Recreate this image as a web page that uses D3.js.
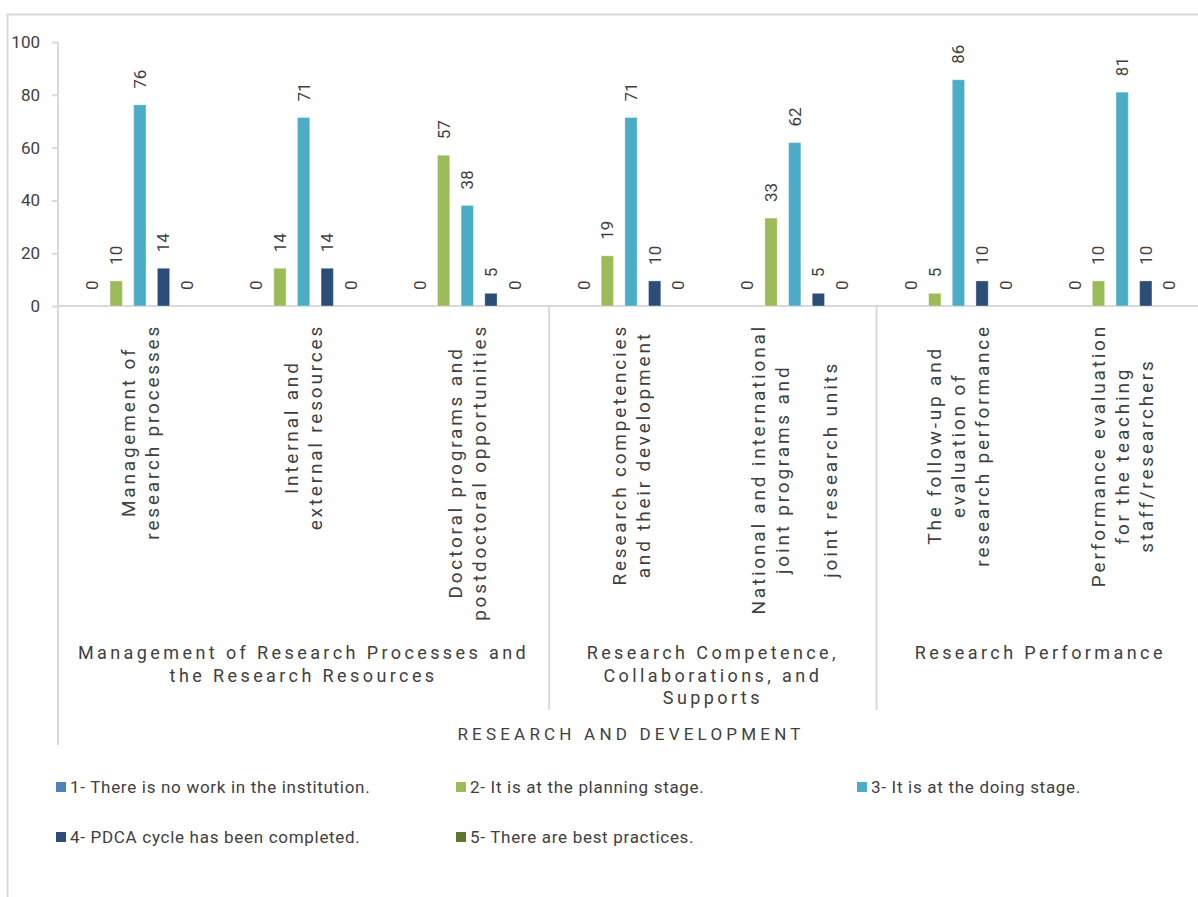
<!DOCTYPE html>
<html><head><meta charset="utf-8">
<script src="https://cdn.jsdelivr.net/npm/d3@7/dist/d3.min.js"></script>
<style>
html,body{margin:0;padding:0;background:#fff;}
svg{display:block;font-family:Roboto, "Noto Sans", sans-serif;}
</style></head>
<body>
<svg id="chart" width="1198" height="897"></svg>
<script>
// ---- data ----
const categories = [
  ["Management of", "research processes"],
  ["Internal and", "external resources"],
  ["Doctoral programs and", "postdoctoral opportunities"],
  ["Research competencies", "and their development"],
  ["National and international", "joint programs and", "", "joint research units"],
  ["The follow-up and", "evaluation of", "research performance"],
  ["Performance evaluation", "for the teaching", "staff/researchers"]
];
const groupLabels = [
  ["Management of Research Processes and", "the Research Resources"],
  ["Research Competence,", "Collaborations, and", "Supports"],
  ["Research Performance"]
];
const groupSizes = [3, 2, 2];
const axisTitle = "RESEARCH AND DEVELOPMENT";
const seriesNames = [
  "1- There is no work in the institution.",
  "2- It is at the planning stage.",
  "3- It is at the doing stage.",
  "4- PDCA cycle has been completed.",
  "5- There are best practices."
];
const s1 = [0, 0, 0, 0, 0, 0, 0];
const s2 = [9.5, 14.3, 57.1, 19.0, 33.3, 4.8, 9.5];
const s3 = [76.2, 71.4, 38.1, 71.4, 61.9, 85.7, 81.0];
const s4 = [14.3, 14.3, 4.8, 9.5, 4.8, 9.5, 9.5];
const s5 = [0, 0, 0, 0, 0, 0, 0];
const seriesValues = [s1, s2, s3, s4, s5];
const seriesColors = ["#4F81BD", "#9BBB59", "#4BACC6", "#2C4D75", "#5F7530"];
const yTicks = [0, 20, 40, 60, 80, 100];

(function () {
// ---- layout ----
const svg = d3.select("#chart");
const pLeft = 58, pRight = 1204, pTop = 42, base = 306;
const axisCol = "#d9d9d9", textCol = "#404040";

// outer frame
svg.append("rect").attr("x", 7.5).attr("y", 14.5).attr("width", 1220).attr("height", 900)
  .attr("fill", "none").attr("stroke", axisCol).attr("stroke-width", 2);

const x0 = d3.scaleBand().domain(d3.range(categories.length)).range([pLeft, pRight]).paddingInner(0).paddingOuter(0);
const x1 = d3.scaleBand().domain(d3.range(seriesNames.length)).range([0, x0.bandwidth()])
  .paddingInner(0.48).paddingOuter(1.2);
const y = d3.scaleLinear().domain([0, 100]).range([base, pTop]);

// y axis
const yAxis = d3.axisLeft(y).tickValues(yTicks).tickSize(6).tickPadding(12);
const gy = svg.append("g").attr("transform", `translate(${pLeft},0)`).call(yAxis);
gy.select(".domain").remove();
gy.selectAll(".tick line").attr("stroke", axisCol).attr("stroke-width", 2);
gy.selectAll(".tick text").attr("fill", textCol).style("font-size", "17px").style("font-family", "Roboto");
svg.append("line").attr("x1", pLeft).attr("x2", pLeft).attr("y1", y(100)).attr("y2", 745)
  .attr("stroke", axisCol).attr("stroke-width", 2);
svg.append("line").attr("x1", pLeft).attr("x2", pRight).attr("y1", base).attr("y2", base)
  .attr("stroke", axisCol).attr("stroke-width", 2);

// group separators
let acc = 0;
groupSizes.forEach((n, i) => {
  acc += n;
  if (i < groupSizes.length - 1) {
    const xs = x0(acc);
    svg.append("line").attr("x1", xs).attr("x2", xs).attr("y1", base).attr("y2", 710)
      .attr("stroke", axisCol).attr("stroke-width", 2);
  }
});

// bars
const rows = [];
categories.forEach((c, ci) => seriesValues.forEach((vals, si) => rows.push({ci, si, v: vals[ci]})));
svg.append("g").selectAll("rect").data(rows.filter(d => d.v > 0)).join("rect")
  .attr("x", d => x0(d.ci) + x1(d.si))
  .attr("y", d => y(d.v))
  .attr("width", x1.bandwidth())
  .attr("height", d => base - y(d.v))
  .attr("fill", d => seriesColors[d.si])
  .attr("stroke", "#ffffff").attr("stroke-opacity", 0.35).attr("stroke-width", 1);

// data labels
const fmt = d3.format(".0f");
svg.append("g").selectAll("text").data(rows).join("text")
  .attr("transform", d => `translate(${x0(d.ci) + x1(d.si) + x1.bandwidth() / 2},${y(d.v) - 16}) rotate(-90)`)
  .attr("dy", "0.35em")
  .attr("text-anchor", "start")
  .attr("fill", textCol)
  .style("font-size", "17px")
  .text(d => fmt(d.v));

// category labels (rotated)
const lineGap = 24;
const catG = svg.append("g");
categories.forEach((lines, ci) => {
  const cx = x0(ci) + x0.bandwidth() / 2;
  const n = lines.length;
  const g = catG.append("g");
  const texts = lines.map((t, li) => {
    const lx = cx + (li - (n - 1) / 2) * lineGap;
    return g.append("text")
      .attr("data-x", lx)
      .attr("text-anchor", "middle")
      .attr("dy", "0.35em")
      .attr("fill", textCol)
      .style("font-size", "19px")
      .style("letter-spacing", "2.8px")
      .text(t);
  });
  const maxLen = d3.max(texts, t => t.node().getComputedTextLength());
  const cy = 324 + maxLen / 2;
  texts.forEach(t => t.attr("transform", `translate(${t.attr("data-x")},${cy}) rotate(-90)`));
});

// group labels
acc = 0;
groupSizes.forEach((n, gi) => {
  const gx = (x0(acc) + x0(acc + n - 1) + x0.bandwidth()) / 2;
  acc += n;
  groupLabels[gi].forEach((t, li) => {
    svg.append("text").attr("x", gx).attr("y", 653 + li * 22.5)
      .attr("dy", "0.35em").attr("text-anchor", "middle")
      .attr("fill", textCol).style("font-size", "18px").style("letter-spacing", "3.4px")
      .text(t);
  });
});

// axis title
svg.append("text").attr("x", (pLeft + pRight) / 2).attr("y", 734).attr("dy", "0.35em")
  .attr("text-anchor", "middle").attr("fill", textCol)
  .style("font-size", "17px").style("letter-spacing", "4.2px").text(axisTitle);

// legend
const legX = [56, 456, 857], legY = [787, 837];
seriesNames.forEach((name, i) => {
  const lx = legX[i % 3], ly = legY[Math.floor(i / 3)];
  svg.append("rect").attr("x", lx).attr("y", ly - 5).attr("width", 10).attr("height", 10)
    .attr("fill", seriesColors[i]);
  svg.append("text").attr("x", lx + 14).attr("y", ly).attr("dy", "0.35em")
    .attr("fill", textCol).style("font-size", "17px").style("letter-spacing", "0.7px").text(name);
});
})();
</script>
</body></html>
